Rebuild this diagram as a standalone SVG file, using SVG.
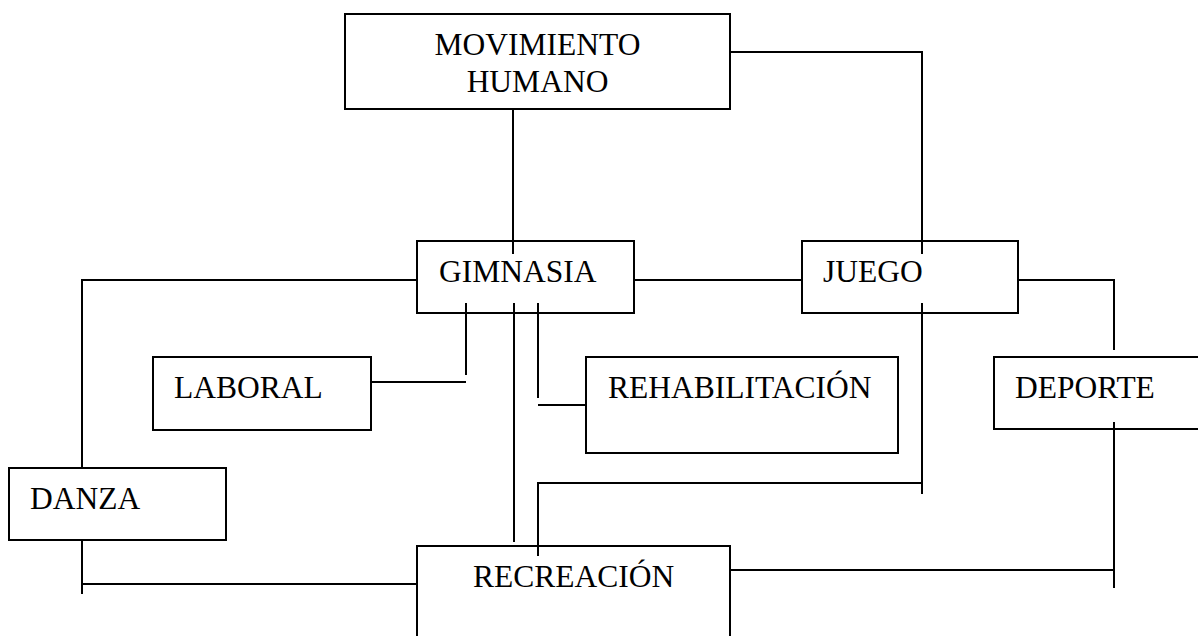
<svg xmlns="http://www.w3.org/2000/svg" width="1198" height="636" viewBox="0 0 1198 636">
<style>
.box{fill:#fff;stroke:#000;stroke-width:2}
.ln{fill:none;stroke:#000;stroke-width:2}
text{font-family:"Liberation Serif","Times New Roman",serif;font-size:31.5px;fill:#000}
</style>
<rect width="1198" height="636" fill="#fff"/>
<g id="nodes">
<g id="movimiento"><rect class="box" x="345" y="14" width="385" height="95"/><text x="537.5" y="55" text-anchor="middle">MOVIMIENTO</text><text x="537.5" y="92" text-anchor="middle">HUMANO</text></g>
<g id="gimnasia"><rect class="box" x="417" y="241" width="217" height="72"/><text x="439" y="282">GIMNASIA</text></g>
<g id="juego"><rect class="box" x="802" y="241" width="216" height="72"/><text x="823" y="282">JUEGO</text></g>
<g id="laboral"><rect class="box" x="153" y="357" width="218" height="73"/><text x="174" y="398">LABORAL</text></g>
<g id="rehabilitacion"><rect class="box" x="586" y="357" width="312" height="96"/><text x="608" y="398">REHABILITACIÓN</text></g>
<g id="deporte"><rect class="box" x="994" y="357" width="220" height="72"/><text x="1015" y="398">DEPORTE</text></g>
<g id="danza"><rect class="box" x="9" y="468" width="217" height="72"/><text x="30" y="509">DANZA</text></g>
<g id="recreacion"><rect class="box" x="417" y="546" width="313" height="100"/><text x="473" y="587">RECREACIÓN</text></g>
</g>
<g id="connectors">
<polyline class="ln" points="730,52 922,52 922,254"/>
<line class="ln" x1="513" y1="109" x2="513" y2="254"/>
<polyline class="ln" points="417,280 82,280 82,468"/>
<line class="ln" x1="634" y1="280" x2="802" y2="280"/>
<line class="ln" x1="466" y1="303" x2="466" y2="375"/>
<line class="ln" x1="371" y1="382" x2="466" y2="382"/>
<line class="ln" x1="514" y1="303" x2="514" y2="542"/>
<line class="ln" x1="538" y1="303" x2="538" y2="398"/>
<line class="ln" x1="538" y1="405" x2="586" y2="405"/>
<line class="ln" x1="922" y1="303" x2="922" y2="494"/>
<polyline class="ln" points="922,483 538,483 538,556"/>
<polyline class="ln" points="1018,280 1114,280 1114,350"/>
<line class="ln" x1="1114" y1="422" x2="1114" y2="588"/>
<line class="ln" x1="730" y1="570" x2="1114" y2="570"/>
<line class="ln" x1="82" y1="540" x2="82" y2="594"/>
<line class="ln" x1="82" y1="584" x2="417" y2="584"/>
</g>
</svg>
